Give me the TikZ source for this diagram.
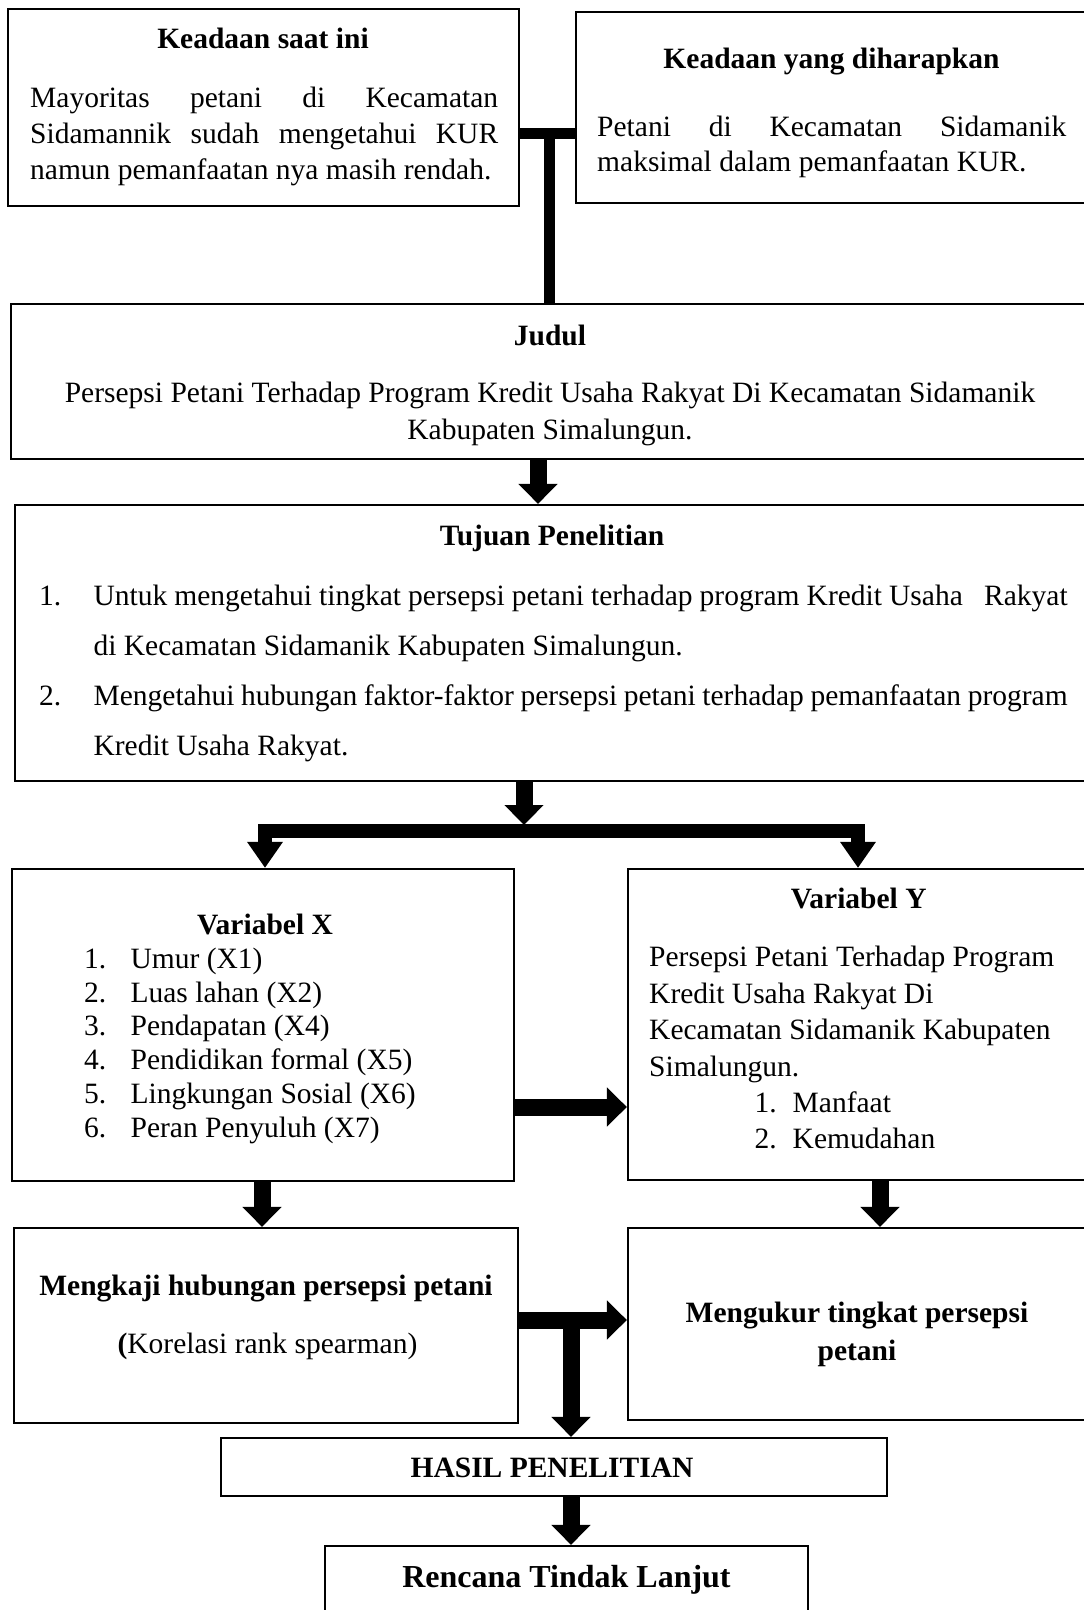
\documentclass[tikz,border=0pt]{standalone}
\usepackage{fontspec}
\setmainfont{Liberation Serif}
\usetikzlibrary{arrows.meta}
\begin{document}
\begin{tikzpicture}[x=1pt,y=-1pt,
  box/.style={draw, line width=2.2pt, inner sep=0pt, rectangle},
  T/.style={font=\fontsize{29.5}{36}\selectfont, inner sep=0pt, anchor=base},
  TL/.style={T, anchor=base west},
  B/.style={T, font=\fontsize{29.5}{36}\selectfont\bfseries},
  blk/.style={line width=17pt, -{Triangle[width=38pt,length=20pt]}},
  bar/.style={line width=11pt}]
\useasboundingbox (0,0) rectangle (1084,1610);

% boxes
\node[box, minimum width=511pt, minimum height=197pt] (b1) at (263.5,107.5) {};
\node[box, minimum width=512pt, minimum height=191pt] (b2) at (832,107.5) {};
\node[box, minimum width=1077pt, minimum height=155pt] (judul) at (549.5,381.5) {};
\node[box, minimum width=1073pt, minimum height=276pt] (tujuan) at (551.5,643) {};
\node[box, minimum width=502pt, minimum height=312pt] (varx) at (263,1025) {};
\node[box, minimum width=460pt, minimum height=311pt] (vary) at (858,1024.5) {};
\node[box, minimum width=504pt, minimum height=195pt] (kaji) at (266,1325.5) {};
\node[box, minimum width=460pt, minimum height=192pt] (ukur) at (858,1324) {};
\node[box, minimum width=666pt, minimum height=58pt] (hasil) at (554,1467) {};
\node[box, minimum width=483pt, minimum height=84pt] (rencana) at (566.5,1588) {};

% texts box 1
\node[B] (t1) at (263,48) {Keadaan saat ini};
\node[TL] (t1a) at (30,107) {\makebox[468pt][s]{Mayoritas petani di Kecamatan}};
\node[TL] (t1b) at (30,143) {\makebox[468pt][s]{Sidamannik sudah mengetahui KUR}};
\node[TL] (t1c) at (30,179) {namun pemanfaatan nya masih rendah.};
% box 2
\node[B] (t2) at (831.5,68) {Keadaan yang diharapkan};
\node[TL] (t2a) at (597,136) {\makebox[469pt][s]{Petani di Kecamatan Sidamanik}};
\node[TL] (t2b) at (597,171) {maksimal dalam pemanfaatan KUR.};
% judul
\node[B] (t3) at (550,345) {Judul};
\node[T] (t3a) at (550,402) {Persepsi Petani Terhadap Program Kredit Usaha Rakyat Di Kecamatan Sidamanik};
\node[T] (t3b) at (550,439) {Kabupaten Simalungun.};
% tujuan
\node[B] (t4) at (552,545) {Tujuan Penelitian};
\node[TL] (n41) at (39,605) {1.};
\node[TL] (t4a) at (93.4,605) {\makebox[974pt][s]{Untuk mengetahui tingkat persepsi petani terhadap program Kredit Usaha\ \ \ Rakyat}};
\node[TL] (t4b) at (93.4,655) {di Kecamatan Sidamanik Kabupaten Simalungun.};
\node[TL] (n42) at (39,705) {2.};
\node[TL] (t4c) at (93.4,705) {\makebox[974pt][s]{Mengetahui hubungan faktor-faktor persepsi petani terhadap pemanfaatan program}};
\node[TL] (t4d) at (93.4,755) {Kredit Usaha Rakyat.};
% variabel X
\node[B] (t5) at (265,934) {Variabel X};
\node[TL] (x1n) at (84,968) {1.};   \node[TL] (x1) at (130.4,968) {Umur (X1)};
\node[TL] (x2n) at (84,1002) {2.};  \node[TL] (x2) at (130.4,1002) {Luas lahan (X2)};
\node[TL] (x3n) at (84,1035) {3.};  \node[TL] (x3) at (130.4,1035) {Pendapatan (X4)};
\node[TL] (x4n) at (84,1069) {4.};  \node[TL] (x4) at (130.4,1069) {Pendidikan formal (X5)};
\node[TL] (x5n) at (84,1103) {5.};  \node[TL] (x5) at (130.4,1103) {Lingkungan Sosial (X6)};
\node[TL] (x6n) at (84,1137) {6.};  \node[TL] (x6) at (130.4,1137) {Peran Penyuluh (X7)};
% variabel Y
\node[B] (t6) at (858.7,908) {Variabel Y};
\node[TL] (y1) at (649,966) {Persepsi Petani Terhadap Program};
\node[TL] (y2) at (649,1003) {Kredit Usaha Rakyat Di};
\node[TL] (y3) at (649,1039) {Kecamatan Sidamanik Kabupaten};
\node[TL] (y4) at (649,1076) {Simalungun.};
\node[TL] (y5n) at (754.5,1112) {1.}; \node[TL] (y5) at (792.5,1112) {Manfaat};
\node[TL] (y6n) at (754.5,1148) {2.}; \node[TL] (y6) at (792.5,1148) {Kemudahan};
% kaji / ukur
\node[B] (t7) at (266,1295) {Mengkaji hubungan persepsi petani};
\node[T] (t7a) at (267.5,1353) {\textbf{(}Korelasi rank spearman)};
\node[B] (t8) at (857,1322) {Mengukur tingkat persepsi};
\node[B] (t8a) at (857,1360) {petani};
\node[B] (t9) at (552,1477) {HASIL PENELITIAN};
\node[B, font=\fontsize{32}{38}\selectfont\bfseries] (t10) at (566.5,1587) {Rencana Tindak Lanjut};

% connectors
\coordinate (tj) at (549,133);
\draw[bar] (b1.east |- tj) -- (b2.west |- tj);
\draw[bar] (tj) -- (judul.north -| tj);

\coordinate (a1) at (538,0);
\draw[blk] (judul.south -| a1) -- (tujuan.north -| a1);

\coordinate (s0) at (524,825);
\draw[blk] (tujuan.south -| s0) -- (s0);
\coordinate (sl) at (265,831);
\coordinate (sr) at (858,831);
\draw[line width=14pt, line join=miter, {Triangle[width=34pt,length=26pt]}-{Triangle[width=34pt,length=26pt]}]
  (varx.north -| sl) -- (sl) -- (sr) -- (vary.north -| sr);

\coordinate (h1) at (0,1107);
\draw[blk] (varx.east |- h1) -- (vary.west |- h1);

\coordinate (d1) at (262,0);
\draw[blk] (varx.south -| d1) -- (kaji.north -| d1);
\coordinate (d2) at (880,0);
\draw[blk] (vary.south -| d2) -- (ukur.north -| d2);

\coordinate (h2) at (571,1320);
\draw[blk] (kaji.east |- h2) -- (ukur.west |- h2);
\draw[blk] (h2) -- (hasil.north -| h2);
\draw[blk] (hasil.south -| h2) -- (rencana.north -| h2);
\end{tikzpicture}
\end{document}
